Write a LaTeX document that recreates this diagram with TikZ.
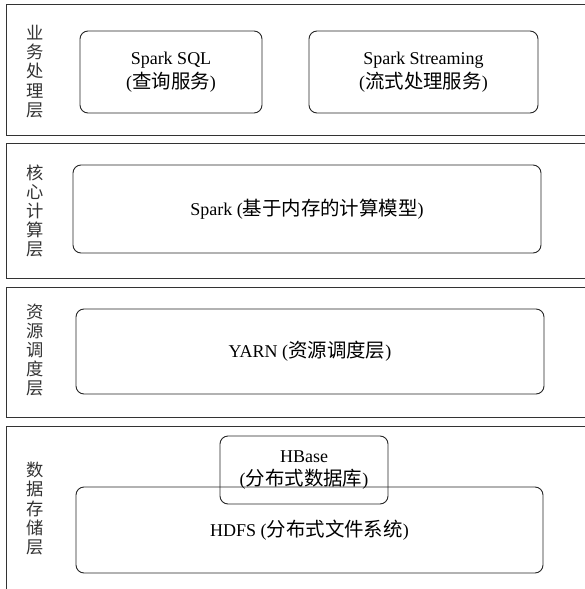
\documentclass[tikz,border=0pt]{standalone}
\usepackage{fontspec}
\setmainfont{Liberation Serif}
\newfontfamily\cjk[Scale=1.08]{Noto Sans CJK SC}
\newcommand\zh[1]{{\cjk #1}}
\begin{document}
\begin{tikzpicture}[x=1pt,y=-1pt,
  layerbox/.style={draw=black!80, line width=1.3pt, rectangle, inner sep=0pt},
  compbox/.style={draw=black!85, line width=0.9pt, rectangle, rounded corners=8pt, inner sep=0pt,
    align=center, font=\fontsize{18}{23.5}\selectfont},
  layerlabel/.style={align=center, inner sep=0pt, text width=18pt,
    font=\fontsize{16}{19.2}\selectfont\cjk, text=black!80}]
\useasboundingbox (0,0) rectangle (584,589);
% layers
\node[layerbox, minimum width=600pt, minimum height=131pt, anchor=north west] (L1) at (6,4) {};
\node[layerbox, minimum width=600pt, minimum height=135pt, anchor=north west] (L2) at (6,143) {};
\node[layerbox, minimum width=600pt, minimum height=130pt, anchor=north west] (L3) at (6,287) {};
\node[layerbox, minimum width=600pt, minimum height=180pt, anchor=north west] (L4) at (6,426) {};
% labels
\node[layerlabel] (T1) at (35,71.5) {业\\务\\处\\理\\层};
\node[layerlabel] (T2) at (35,211) {核\\心\\计\\算\\层};
\node[layerlabel] (T3) at (35,350) {资\\源\\调\\度\\层};
\node[layerlabel] (T4) at (35,508.5) {数\\据\\存\\储\\层};
% components
\node[compbox, minimum width=182pt, minimum height=82pt] (sql) at (171,72) {Spark SQL\\(\zh{查询服务})};
\node[compbox, minimum width=229pt, minimum height=82pt] (stream) at (423.5,72) {Spark Streaming\\(\zh{流式处理服务})};
\node[compbox, minimum width=468pt, minimum height=88pt] (core) at (307,209) {Spark (\zh{基于内存的计算模型})};
\node[compbox, minimum width=468pt, minimum height=85pt] (yarn) at (310,351.5) {YARN (\zh{资源调度层})};
\node[compbox, minimum width=467pt, minimum height=86pt] (hdfs) at (309.5,530) {HDFS (\zh{分布式文件系统})};
\node[compbox, minimum width=168pt, minimum height=68pt] (hbase) at (304,470) {HBase\\(\zh{分布式数据库})};
\end{tikzpicture}
\end{document}
